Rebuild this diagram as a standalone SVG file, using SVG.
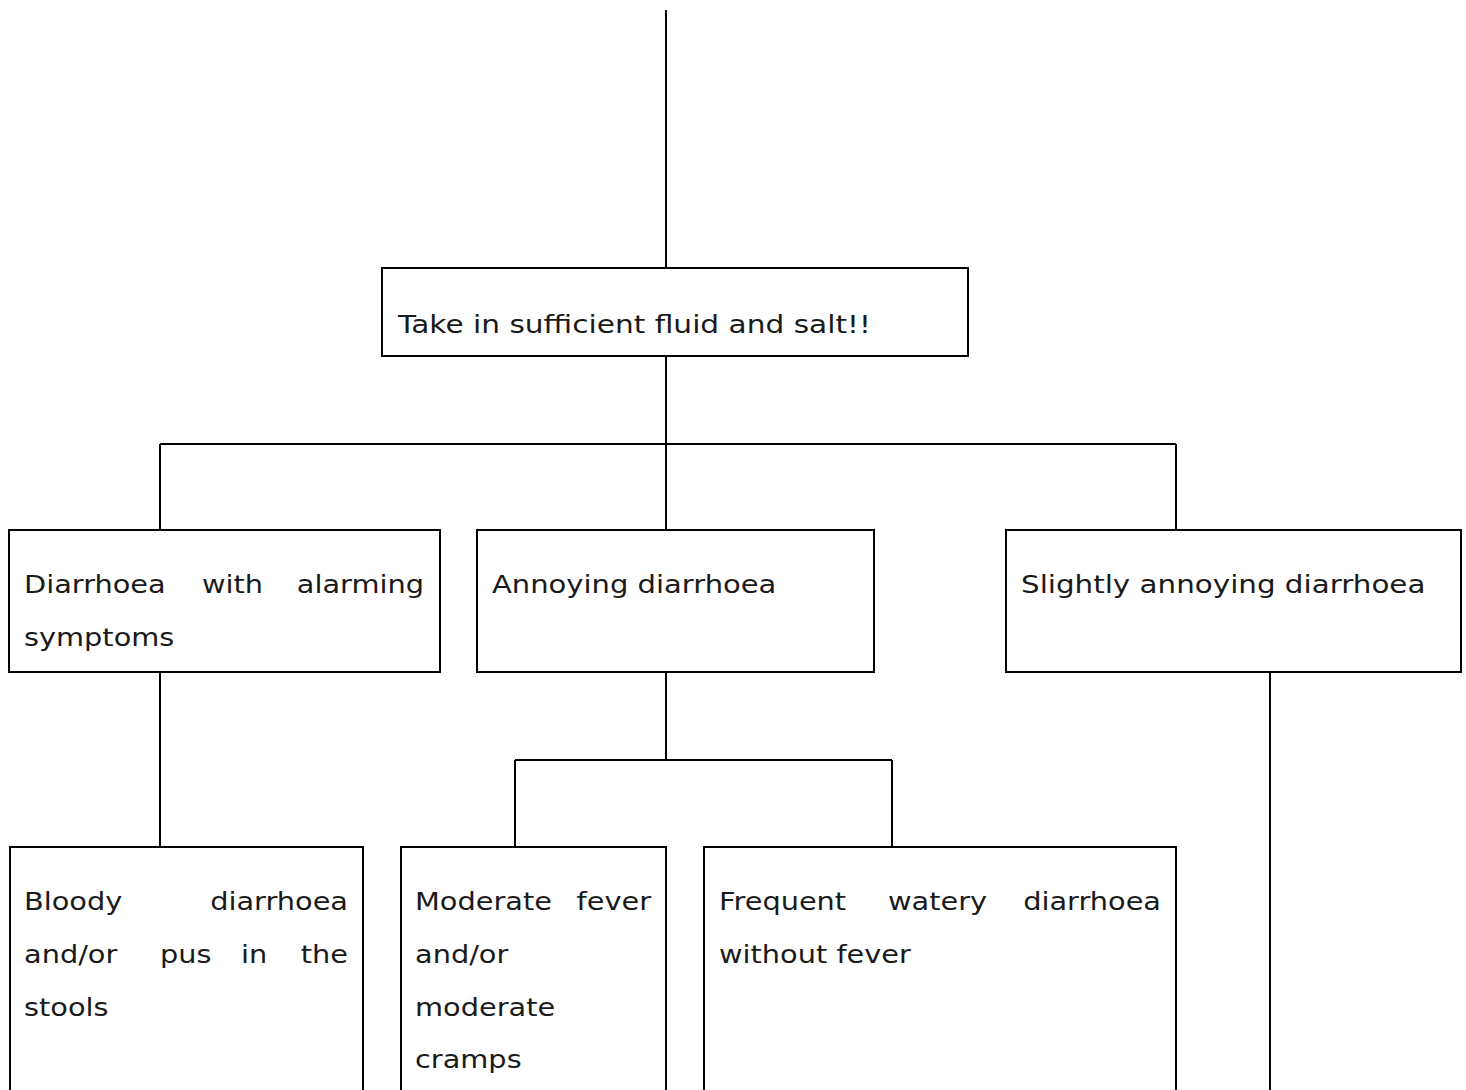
<svg xmlns="http://www.w3.org/2000/svg" width="1466" height="1090" viewBox="0 0 1466 1090">
<style>
.box{fill:#fff;stroke:#000;stroke-width:2}
.ln{stroke:#000;stroke-width:2;fill:none}
text{font-family:"DejaVu Sans","Liberation Sans",sans-serif;font-size:24px;fill:#1a1a1a}
.r{text-anchor:end}
</style>
<rect width="1466" height="1090" fill="#fff"/>
<g id="connectors">
<path class="ln" d="M666 10V268M666 356V444M160 444H1176M160 444V530M666 444V530M1176 444V530M160 672V847M666 672V760M515 760H892M515 760V847M892 760V847M1270 672V1090"/>
</g>
<g id="n-top"><rect class="box" x="382" y="268" width="586" height="88"/>
<text transform="translate(398 333) scale(1.2 1)" textLength="394" lengthAdjust="spacingAndGlyphs">Take in sufficient fluid and salt!!</text></g>
<g id="n-alarm"><rect class="box" x="9" y="530" width="431" height="142"/>
<text transform="translate(24 593) scale(1.2 1)">Diarrhoea</text>
<text transform="translate(202 593) scale(1.2 1)">with</text>
<text class="r" transform="translate(424 593) scale(1.2 1)">alarming</text>
<text transform="translate(24 646) scale(1.2 1)">symptoms</text></g>
<g id="n-annoying"><rect class="box" x="477" y="530" width="397" height="142"/>
<text transform="translate(492 593) scale(1.2 1)" textLength="237" lengthAdjust="spacingAndGlyphs">Annoying diarrhoea</text></g>
<g id="n-slight"><rect class="box" x="1006" y="530" width="455" height="142"/>
<text transform="translate(1021 593) scale(1.2 1)" textLength="337" lengthAdjust="spacingAndGlyphs">Slightly annoying diarrhoea</text></g>
<g id="n-bloody"><rect class="box" x="10" y="847" width="353" height="260"/>
<text transform="translate(24 910) scale(1.2 1)">Bloody</text>
<text class="r" transform="translate(348 910) scale(1.2 1)">diarrhoea</text>
<text transform="translate(24 963) scale(1.2 1)">and/or</text>
<text transform="translate(160 963) scale(1.2 1)">pus</text>
<text transform="translate(241 963) scale(1.2 1)">in</text>
<text class="r" transform="translate(348 963) scale(1.2 1)">the</text>
<text transform="translate(24 1016) scale(1.2 1)">stools</text></g>
<g id="n-fever"><rect class="box" x="401" y="847" width="265" height="260"/>
<text transform="translate(415 910) scale(1.2 1)">Moderate</text>
<text class="r" transform="translate(651 910) scale(1.2 1)">fever</text>
<text transform="translate(415 963) scale(1.2 1)">and/or</text>
<text transform="translate(415 1016) scale(1.2 1)">moderate</text>
<text transform="translate(415 1068) scale(1.2 1)">cramps</text></g>
<g id="n-watery"><rect class="box" x="704" y="847" width="472" height="260"/>
<text transform="translate(719 910) scale(1.2 1)">Frequent</text>
<text transform="translate(888 910) scale(1.2 1)">watery</text>
<text class="r" transform="translate(1161 910) scale(1.2 1)">diarrhoea</text>
<text transform="translate(719 963) scale(1.2 1)">without fever</text></g>
</svg>
